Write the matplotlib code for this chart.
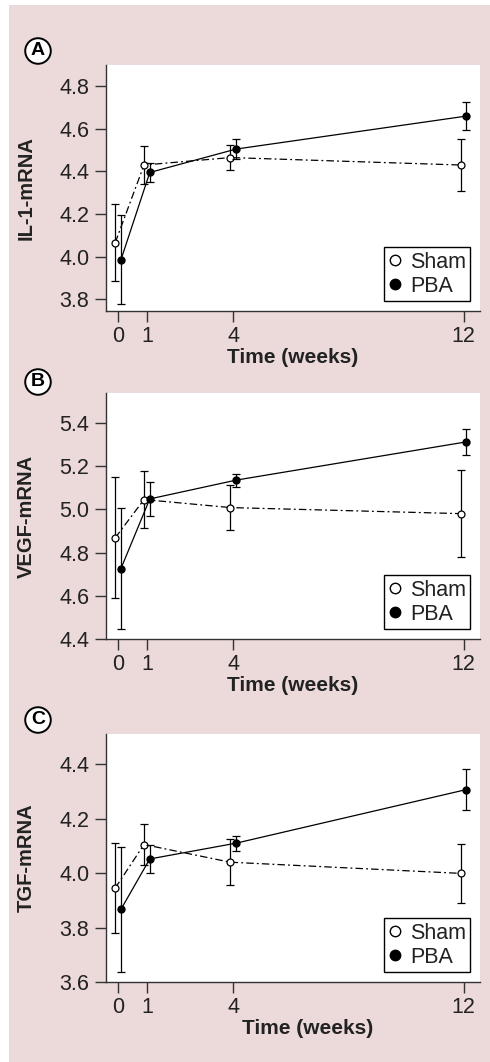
import matplotlib.pyplot as plt
from matplotlib.patches import Rectangle
from matplotlib.lines import Line2D

plt.rcParams['font.family'] = ['Liberation Sans', 'DejaVu Sans']

# time points (weeks)
weeks = [0, 1, 4, 12]

# A: IL-1 mRNA
il1_sham = [4.065, 4.43, 4.465, 4.43]
il1_sham_err = [0.18, 0.09, 0.06, 0.12]
il1_pba = [3.985, 4.395, 4.505, 4.66]
il1_pba_err = [0.21, 0.045, 0.045, 0.065]

# B: VEGF mRNA
vegf_sham = [4.868, 5.045, 5.008, 4.98]
vegf_sham_err = [0.28, 0.13, 0.105, 0.2]
vegf_pba = [4.726, 5.048, 5.135, 5.312]
vegf_pba_err = [0.28, 0.078, 0.03, 0.06]

# C: TGF mRNA
tgf_sham = [3.945, 4.105, 4.04, 3.999]
tgf_sham_err = [0.165, 0.075, 0.085, 0.108]
tgf_pba = [3.867, 4.052, 4.11, 4.307]
tgf_pba_err = [0.23, 0.05, 0.027, 0.075]

panels = [
    ('A', 'IL-1-mRNA', il1_sham, il1_sham_err, il1_pba, il1_pba_err,
     [3.8, 4.0, 4.2, 4.4, 4.6, 4.8], (3.744, 4.9)),
    ('B', 'VEGF-mRNA', vegf_sham, vegf_sham_err, vegf_pba, vegf_pba_err,
     [4.4, 4.6, 4.8, 5.0, 5.2, 5.4], (4.4, 5.538)),
    ('C', 'TGF-mRNA', tgf_sham, tgf_sham_err, tgf_pba, tgf_pba_err,
     [3.6, 3.8, 4.0, 4.2, 4.4], (3.6, 4.511)),
]

W, H = 490, 1062
fig = plt.figure(figsize=(W / 100, H / 100), dpi=100)
fig.patch.set_facecolor('white')
# pink background panel
fig.patches.append(Rectangle((9 / W, 0), 1 - 9 / W, 1 - 5 / H, transform=fig.transFigure,
                             facecolor='#ecd9d9', edgecolor='none', zorder=-10))

# axes boxes in pixels: (top, bottom)
boxes = [(65, 311), (393, 639), (734, 982)]
letter_y = [51, 382, 720]
xlabel_x = [0.5, 0.5, 0.54]

ink = '#222222'
sham_off = -0.1
pba_off = 0.1

for i, (letter, ylab, sham, sham_err, pba, pba_err, yticks, ylim) in enumerate(panels):
    top, bot = boxes[i]
    ax = fig.add_axes([106 / W, 1 - bot / H, (480 - 106) / W, (bot - top) / H])
    ax.set_facecolor('white')

    xs = [w + sham_off for w in weeks]
    xp = [w + pba_off for w in weeks]
    ax.errorbar(xs, sham, yerr=sham_err, color='black', lw=0.9, capsize=3,
                capthick=0.9, elinewidth=0.9, dashes=(6, 2.5, 1.5, 2.5),
                marker='o', ms=5, mfc='white', mec='black', mew=0.9, zorder=3)
    ax.errorbar(xp, pba, yerr=pba_err, color='black', lw=0.9, capsize=3,
                capthick=0.9, elinewidth=0.9, ls='-',
                marker='o', ms=5, mfc='black', mec='black', zorder=4)

    ax.set_xlim(-0.42, 12.57)
    ax.set_ylim(*ylim)
    ax.set_xticks(weeks)
    ax.set_yticks(yticks)
    ax.set_yticklabels(['{:.1f}'.format(t) for t in yticks])

    for s in ['top', 'right']:
        ax.spines[s].set_visible(False)
    for s in ['left', 'bottom']:
        ax.spines[s].set_color('#333333')
        ax.spines[s].set_linewidth(1.0)
    ax.tick_params(direction='out', length=8, width=1.0, color='#333333',
                   labelsize=15.5, labelcolor=ink)
    ax.tick_params(axis='y', pad=4)
    ax.tick_params(axis='x', pad=3)

    ax.set_ylabel(ylab, fontsize=14.5, fontweight='bold', color=ink)
    ax.yaxis.set_label_coords(-0.187, 0.5)
    ax.set_xlabel('Time (weeks)', fontsize=15, fontweight='bold', color=ink)
    ax.xaxis.set_label_coords(xlabel_x[i], -0.15)

    handles = [Line2D([], [], ls='none', marker='o', ms=7.5, mfc='white', mec='black', mew=1),
               Line2D([], [], ls='none', marker='o', ms=7.5, mfc='black', mec='black')]
    leg = ax.legend(handles, ['Sham', 'PBA'], loc='lower right', fontsize=15.5,
                    frameon=True, fancybox=False, edgecolor='black', framealpha=1,
                    handlelength=0.6, handletextpad=0.4, borderpad=0.2,
                    labelspacing=0.15, borderaxespad=0.45)
    leg.get_frame().set_linewidth(1.0)
    for t in leg.get_texts():
        t.set_color(ink)

    fig.text(38 / W, 1 - letter_y[i] / H, letter, fontsize=14, fontweight='bold',
             ha='center', va='center', color='black',
             bbox=dict(boxstyle='circle,pad=0.22', fc='white', ec='black', lw=1.4))

fig.savefig('out.png', dpi=100)
